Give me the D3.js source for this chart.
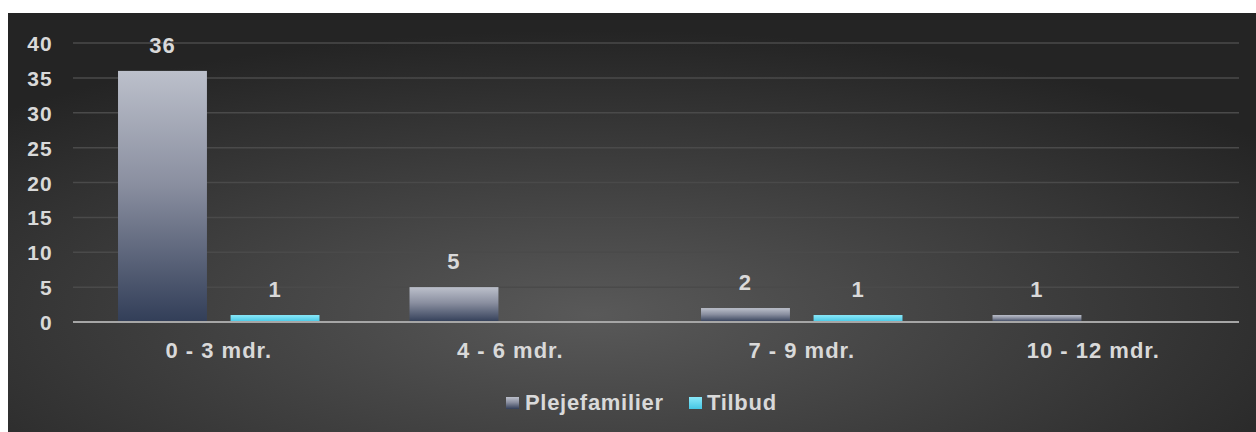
<!DOCTYPE html>
<html>
<head>
<meta charset="utf-8">
<script src="https://cdn.jsdelivr.net/npm/d3@7"></script>
<style>
  body { margin: 0; background: #fff; }
  svg text { font-family: "Liberation Sans", Arial, sans-serif; font-weight: bold; fill: #d9d9d9; }
</style>
</head>
<body>
<div id="chart"></div>
<script>
// data
var categories = ["0 - 3 mdr.", "4 - 6 mdr.", "7 - 9 mdr.", "10 - 12 mdr."];
var seriesNames = ["Plejefamilier", "Tilbud"];
var plejefamilier = [36, 5, 2, 1];
var tilbud = [1, null, 1, null];
var yTicks = [0, 5, 10, 15, 20, 25, 30, 35, 40];

var W = 1256, H = 432;
var margin = { left: 73, right: 17, top: 43, bottom: 110 };

var svg = d3.select("#chart").append("svg")
    .attr("width", W).attr("height", H);

var defs = svg.append("defs");

// background gradient, lighter towards the lower middle
var bg = defs.append("radialGradient").attr("id", "bg")
    .attr("cx", "47%").attr("cy", "72%").attr("r", "68%")
    .attr("gradientUnits", "objectBoundingBox");
bg.append("stop").attr("offset", "0%").attr("stop-color", "#595959");
bg.append("stop").attr("offset", "100%").attr("stop-color", "#242424");

var g1 = defs.append("linearGradient").attr("id", "gPleje")
    .attr("x1", 0).attr("y1", 0).attr("x2", 0).attr("y2", 1);
g1.append("stop").attr("offset", "0%").attr("stop-color", "#bcc0cb");
g1.append("stop").attr("offset", "45%").attr("stop-color", "#8a8fa0");
g1.append("stop").attr("offset", "100%").attr("stop-color", "#323e58");

var g2 = defs.append("linearGradient").attr("id", "gTilbud")
    .attr("x1", 0).attr("y1", 0).attr("x2", 0).attr("y2", 1);
g2.append("stop").attr("offset", "0%").attr("stop-color", "#8ae9fa");
g2.append("stop").attr("offset", "100%").attr("stop-color", "#45c6e4");

svg.append("rect")
    .attr("x", 8).attr("y", 13)
    .attr("width", W - 8).attr("height", H - 13)
    .attr("fill", "url(#bg)");

var x0 = d3.scaleBand()
    .domain(categories)
    .range([margin.left, W - margin.right]);

var x1 = d3.scaleBand()
    .domain(seriesNames)
    .range([0, x0.bandwidth()])
    .paddingInner(0.21)
    .paddingOuter(0.4);

var y = d3.scaleLinear()
    .domain([0, 40])
    .range([H - margin.bottom, margin.top]);

// gridlines
svg.append("g").selectAll("line")
    .data(yTicks.filter(function(d) { return d > 0; }))
    .enter().append("line")
    .attr("x1", margin.left).attr("x2", W - margin.right)
    .attr("y1", function(d) { return y(d); })
    .attr("y2", function(d) { return y(d); })
    .attr("stroke", "#4a4a4a")
    .attr("stroke-width", 1.5);

// y axis labels
var yAxis = d3.axisLeft(y).tickValues(yTicks).tickSize(0).tickPadding(0);
var ya = svg.append("g")
    .attr("transform", "translate(" + 53 + ",0)")
    .call(yAxis);
ya.select(".domain").remove();
ya.selectAll("text")
    .attr("font-size", 21)
    .attr("letter-spacing", 1.2)
    .attr("dy", "0.36em");

// bars
var series = [plejefamilier, tilbud];
var fills = ["url(#gPleje)", "url(#gTilbud)"];

series.forEach(function(vals, si) {
    var name = seriesNames[si];
    var data = categories.map(function(c, i) { return { cat: c, v: vals[i] }; })
        .filter(function(d) { return d.v != null; });
    var g = svg.append("g");
    g.selectAll("rect")
        .data(data)
        .enter().append("rect")
        .attr("x", function(d) { return x0(d.cat) + x1(name); })
        .attr("y", function(d) { return y(d.v); })
        .attr("width", x1.bandwidth())
        .attr("height", function(d) { return y(0) - y(d.v); })
        .attr("fill", fills[si]);
    g.selectAll("text")
        .data(data)
        .enter().append("text")
        .attr("x", function(d) { return x0(d.cat) + x1(name) + x1.bandwidth() / 2; })
        .attr("y", function(d) { return y(d.v) - 18; })
        .attr("text-anchor", "middle")
        .attr("font-size", 22)
        .attr("letter-spacing", 1)
        .text(function(d) { return d.v; });
});

// baseline
svg.append("line")
    .attr("x1", margin.left).attr("x2", W - margin.right)
    .attr("y1", y(0)).attr("y2", y(0))
    .attr("stroke", "#a6a6a6")
    .attr("stroke-width", 2);

// category labels
var xAxis = d3.axisBottom(x0).tickSize(0).tickPadding(0);
var xa = svg.append("g")
    .attr("transform", "translate(0," + (y(0) + 36) + ")")
    .call(xAxis);
xa.select(".domain").remove();
xa.selectAll("text")
    .attr("font-size", 22)
    .attr("letter-spacing", 1)
    .attr("dy", "0");

// legend
var legendItems = [
    { name: seriesNames[0], fill: fills[0], x: 506, tx: 525 },
    { name: seriesNames[1], fill: fills[1], x: 689, tx: 707 }
];
var lg = svg.append("g");
legendItems.forEach(function(d) {
    lg.append("rect")
        .attr("x", d.x).attr("y", 397)
        .attr("width", 13).attr("height", 12)
        .attr("fill", d.fill);
    lg.append("text")
        .attr("x", d.tx).attr("y", 410)
        .attr("font-size", 22)
        .attr("letter-spacing", 0.7)
        .text(d.name);
});
</script>
</body>
</html>
